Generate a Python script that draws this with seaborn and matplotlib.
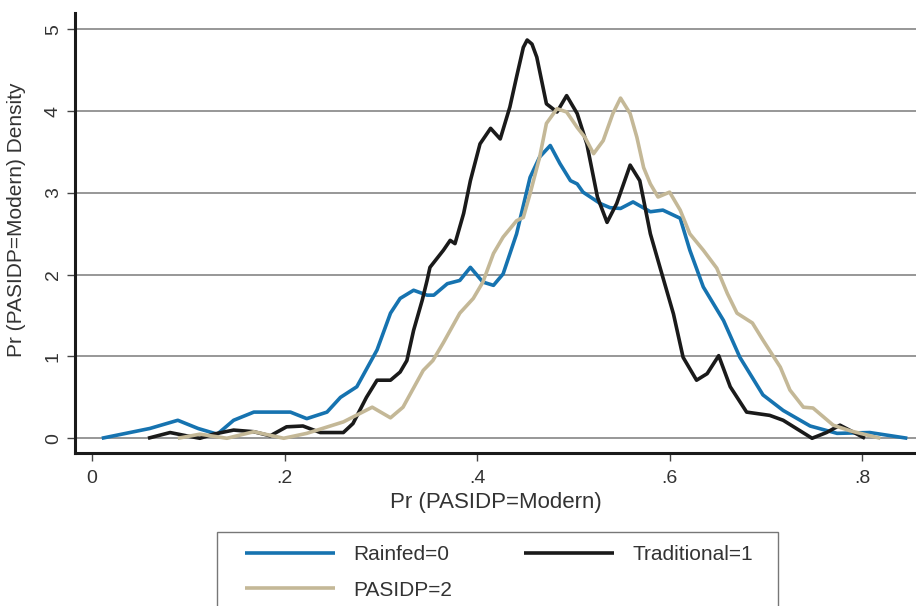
import numpy as np
import pandas as pd
import seaborn as sns
import matplotlib.pyplot as plt
from matplotlib.patches import Rectangle

# values (x = Pr(PASIDP=Modern), y = density)
rain_x = [0.010, 0.060, 0.089, 0.110, 0.130, 0.147, 0.168, 0.206, 0.223, 0.244, 0.258, 0.275,
          0.296, 0.310, 0.320, 0.334, 0.348, 0.355, 0.369, 0.382, 0.393, 0.406, 0.417, 0.427,
          0.441, 0.455, 0.465, 0.476, 0.486, 0.497, 0.504, 0.510, 0.528, 0.538, 0.549, 0.562,
          0.580, 0.593, 0.611, 0.621, 0.635, 0.656, 0.673, 0.697, 0.718, 0.746, 0.774, 0.808, 0.847]
rain_y = [0.00, 0.12, 0.22, 0.12, 0.05, 0.22, 0.32, 0.32, 0.24, 0.32, 0.50, 0.63,
          1.08, 1.53, 1.71, 1.81, 1.75, 1.75, 1.89, 1.93, 2.09, 1.91, 1.87, 2.01,
          2.50, 3.19, 3.44, 3.58, 3.36, 3.15, 3.11, 3.01, 2.87, 2.82, 2.81, 2.89,
          2.77, 2.79, 2.69, 2.30, 1.85, 1.44, 0.99, 0.53, 0.34, 0.15, 0.06, 0.07, 0.00]

trad_x = [0.058, 0.081, 0.098, 0.112, 0.126, 0.147, 0.168, 0.185, 0.202, 0.219, 0.237, 0.261,
          0.271, 0.285, 0.296, 0.310, 0.320, 0.327, 0.334, 0.343, 0.348, 0.351, 0.365, 0.372,
          0.377, 0.386, 0.393, 0.403, 0.414, 0.424, 0.434, 0.441, 0.448, 0.452, 0.457, 0.462,
          0.472, 0.483, 0.493, 0.504, 0.514, 0.525, 0.535, 0.545, 0.559, 0.569, 0.580, 0.590,
          0.604, 0.614, 0.628, 0.639, 0.651, 0.663, 0.680, 0.704, 0.718, 0.748, 0.763, 0.777, 0.803]
trad_y = [0.00, 0.07, 0.03, 0.00, 0.05, 0.10, 0.08, 0.03, 0.14, 0.15, 0.07, 0.07,
          0.18, 0.50, 0.71, 0.71, 0.81, 0.95, 1.32, 1.69, 1.93, 2.09, 2.30, 2.42,
          2.38, 2.75, 3.15, 3.60, 3.79, 3.66, 4.05, 4.42, 4.78, 4.87, 4.82, 4.66,
          4.09, 3.99, 4.19, 3.97, 3.60, 2.95, 2.64, 2.87, 3.34, 3.15, 2.50, 2.09,
          1.52, 0.99, 0.71, 0.79, 1.01, 0.63, 0.32, 0.28, 0.22, 0.00, 0.07, 0.16, 0.00]

pas_x = [0.089, 0.112, 0.140, 0.168, 0.199, 0.223, 0.261, 0.291, 0.310, 0.323, 0.344, 0.354,
         0.365, 0.382, 0.396, 0.406, 0.417, 0.427, 0.441, 0.448, 0.455, 0.465, 0.472, 0.483,
         0.493, 0.504, 0.512, 0.521, 0.531, 0.541, 0.549, 0.559, 0.566, 0.573, 0.580, 0.588,
         0.600, 0.611, 0.621, 0.635, 0.649, 0.660, 0.670, 0.686, 0.697, 0.715, 0.725, 0.739,
         0.749, 0.770, 0.788, 0.819]
pas_y = [0.00, 0.05, 0.00, 0.08, 0.00, 0.06, 0.20, 0.38, 0.25, 0.38, 0.83, 0.95,
         1.17, 1.53, 1.71, 1.91, 2.26, 2.46, 2.66, 2.70, 2.99, 3.44, 3.85, 4.03,
         3.99, 3.80, 3.68, 3.48, 3.64, 3.97, 4.16, 3.97, 3.68, 3.31, 3.11, 2.95,
         3.01, 2.79, 2.50, 2.30, 2.08, 1.77, 1.53, 1.41, 1.20, 0.87, 0.59, 0.38,
         0.37, 0.16, 0.09, 0.00]

series = [("Rainfed=0", rain_x, rain_y, "#1673b0"),
          ("Traditional=1", trad_x, trad_y, "#1a1a1a"),
          ("PASIDP=2", pas_x, pas_y, "#c4b897")]

sns.set_style("white")
plt.rcParams['font.family'] = ['Liberation Sans', 'DejaVu Sans']
txt = '#333333'

fig = plt.figure(figsize=(9.16, 6.06), dpi=100)
ax = fig.add_axes([0.082, 0.2525, 0.918, 0.726])

for name, xs, ys, col in series:
    df = pd.DataFrame({"x": xs, "y": ys})
    sns.lineplot(data=df, x="x", y="y", ax=ax, color=col, lw=2.6, sort=False,
                 label=name, legend=False, solid_joinstyle='round', solid_capstyle='butt')

ax.set_xlim(-0.0177, 0.856)
ax.set_ylim(-0.18, 5.2)
ax.set_yticks([0, 1, 2, 3, 4, 5])
ax.set_xticks([0, 0.2, 0.4, 0.6, 0.8])
ax.set_xticklabels(["0", ".2", ".4", ".6", ".8"])
ax.grid(axis='y', color='#7a7a7a', lw=1.1)
ax.set_axisbelow(True)
for s in ['top', 'right']:
    ax.spines[s].set_visible(False)
for s in ['left', 'bottom']:
    ax.spines[s].set_linewidth(2.2)
    ax.spines[s].set_color('#1a1a1a')
ax.tick_params(axis='both', direction='out', length=6, width=1, color='#444444',
               labelsize=14, labelcolor=txt, bottom=True, left=True)
ax.tick_params(axis='x', pad=6)
plt.setp(ax.get_yticklabels(), rotation=90, va='center')
ax.set_xlabel("Pr (PASIDP=Modern)", fontsize=16, color=txt, labelpad=4)
ax.set_ylabel("Pr (PASIDP=Modern) Density", fontsize=15, color=txt)
ax.yaxis.set_label_coords(-0.058, 0.53)

h, l = ax.get_legend_handles_labels()
order = [0, 2, 1]
W, H = 916, 606
leg = fig.legend([h[i] for i in order], [l[i] for i in order], ncol=2,
                 loc='upper left', bbox_to_anchor=(245 / W, 1 - 545 / H),
                 fontsize=15, handlelength=4.3, handletextpad=0.9, columnspacing=3.45,
                 frameon=False, borderpad=0, borderaxespad=0, labelspacing=0.8)
for t in leg.get_texts():
    t.set_color(txt)

fig.patches.append(Rectangle((217 / W, -0.05), (778 - 217) / W, 1 - 532 / H + 0.05,
                             transform=fig.transFigure, fill=False,
                             edgecolor='#777777', lw=1.0))

fig.savefig("out.png", dpi=100)
